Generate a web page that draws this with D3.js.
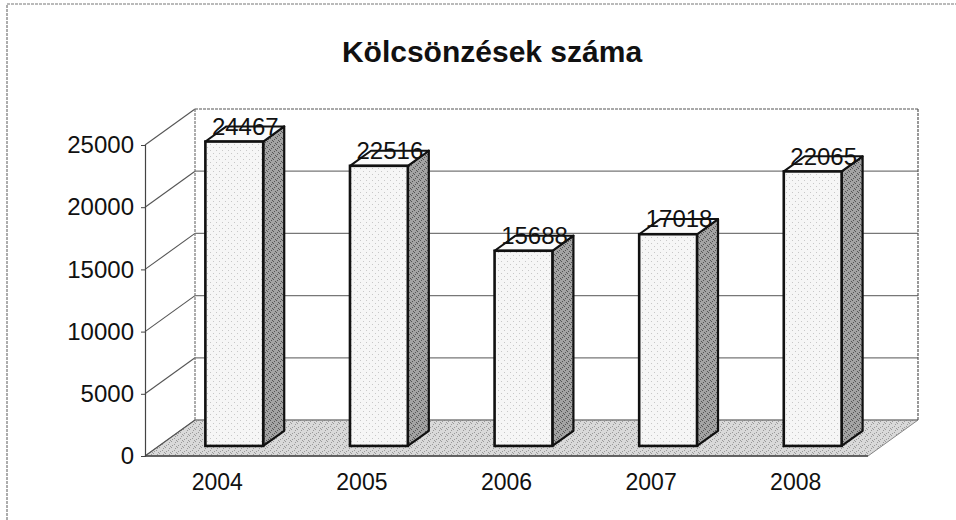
<!DOCTYPE html>
<html>
<head>
<meta charset="utf-8">
<script src="https://cdn.jsdelivr.net/npm/d3@7"></script>
<style>
  body { margin: 0; background: #fff; }
  text { font-family: "Liberation Sans", Arial, sans-serif; fill: #111; }
</style>
</head>
<body>
<div class="chart"></div>
<script>
// data
var years = ["2004", "2005", "2006", "2007", "2008"];
var loans = [24467, 22516, 15688, 17018, 22065];
var yTicks = [0, 5000, 10000, 15000, 20000, 25000];

var svgWidth = 956;
var svgHeight = 520;

// front plane of the 3d box
var front = { left: 145, right: 868, bottom: 456, top: 145 };
// how far the back wall is shifted from the front plane
var depth = { dx: 50, dy: -36 };
// bars sit between these depth fractions
var barNear = 0.28, barFar = 0.7;
var barNudge = 3;

var svg = d3.select(".chart")
  .append("svg")
  .attr("width", svgWidth)
  .attr("height", svgHeight);

// patterns to imitate the scanned stipple
var defs = svg.append("defs");
function stipple(id, base, dot, density) {
  var p = defs.append("pattern")
    .attr("id", id)
    .attr("patternUnits", "userSpaceOnUse")
    .attr("width", 6).attr("height", 6);
  p.append("rect").attr("width", 6).attr("height", 6).attr("fill", base);
  var pts = [[0, 0], [3, 3], [1, 4], [4, 1], [2, 2], [5, 5], [0, 3], [3, 0]];
  pts.slice(0, density).forEach(function(q) {
    p.append("rect").attr("x", q[0]).attr("y", q[1])
      .attr("width", 1).attr("height", 1).attr("fill", dot);
  });
}
stipple("floorFill", "#d9d9d9", "#9a9a9a", 5);
stipple("sideFill", "#a3a3a3", "#555", 6);
stipple("frontFill", "#f6f6f6", "#c8c8c8", 2);

var xScale = d3.scaleBand()
  .domain(years)
  .range([front.left, front.right])
  .paddingInner(0.6)
  .paddingOuter(0.3);

var yScale = d3.scaleLinear()
  .domain([0, 25000])
  .range([front.bottom, front.top]);

function shift(f) { return [depth.dx * f, depth.dy * f]; }
function pts(arr) { return arr.map(function(p) { return p.join(","); }).join(" "); }

// outer frame of the scanned chart
svg.append("path")
  .attr("d", "M7,520 L7,4 L956,4")
  .attr("fill", "none")
  .attr("stroke", "#777")
  .attr("stroke-width", 1.2)
  .attr("stroke-dasharray", "3,1");

// title
svg.append("text")
  .attr("x", 492)
  .attr("y", 62)
  .attr("text-anchor", "middle")
  .attr("font-size", "30px")
  .attr("font-weight", "bold")
  .text("Kölcsönzések száma");

var back = shift(1);
var bx0 = front.left + back[0], bx1 = front.right + back[0];

// floor
svg.append("polygon")
  .attr("points", pts([
    [front.left, front.bottom], [front.right, front.bottom],
    [bx1, front.bottom + back[1]], [bx0, front.bottom + back[1]]
  ]))
  .attr("fill", "url(#floorFill)")
  .attr("stroke", "#888")
  .attr("stroke-width", 1);

// back wall gridlines and left wall diagonals
var grid = svg.append("g").attr("class", "grid");
yTicks.forEach(function(t) {
  var yf = yScale(t), yb = yf + back[1];
  grid.append("line")
    .attr("x1", bx0).attr("x2", bx1)
    .attr("y1", yb).attr("y2", yb)
    .attr("stroke", t === 25000 ? "#555" : "#777")
    .attr("stroke-width", 1.2)
    .attr("stroke-dasharray", t === 25000 ? "3,1" : null);
  grid.append("line")
    .attr("x1", front.left).attr("x2", bx0)
    .attr("y1", yf).attr("y2", yb)
    .attr("stroke", "#555")
    .attr("stroke-width", 1.1);
});
// back wall edges
grid.append("line")
  .attr("x1", bx0).attr("x2", bx0)
  .attr("y1", yScale(25000) + back[1]).attr("y2", yScale(0) + back[1])
  .attr("stroke", "#777").attr("stroke-width", 1.2)
  .attr("stroke-dasharray", "3,1");
grid.append("line")
  .attr("x1", bx1).attr("x2", bx1)
  .attr("y1", yScale(25000) + back[1]).attr("y2", yScale(0) + back[1])
  .attr("stroke", "#555").attr("stroke-width", 1.2)
  .attr("stroke-dasharray", "3,1");

// y axis on the front plane
var leftAxis = d3.axisLeft(yScale)
  .tickValues(yTicks)
  .tickSize(4)
  .tickPadding(7)
  .tickFormat(d3.format("d"));

var yAxis = svg.append("g")
  .attr("transform", `translate(${front.left}, 0)`)
  .call(leftAxis);
yAxis.select(".domain").attr("stroke", "#444").attr("stroke-width", 1.2);
yAxis.selectAll(".tick line").attr("stroke", "#444");
yAxis.selectAll(".tick text")
  .attr("font-size", "24px")
  .attr("fill", "#111")
  .attr("font-family", "Liberation Sans, Arial, sans-serif");

// front floor edge
svg.append("line")
  .attr("x1", front.left).attr("x2", front.right)
  .attr("y1", front.bottom).attr("y2", front.bottom)
  .attr("stroke", "#444").attr("stroke-width", 1.3);

// category labels
var bottomAxis = d3.axisBottom(xScale).tickSize(0).tickPadding(18);
var xAxis = svg.append("g")
  .attr("transform", `translate(0, ${front.bottom})`)
  .call(bottomAxis);
xAxis.select(".domain").remove();
xAxis.selectAll(".tick text")
  .attr("font-size", "23px")
  .attr("fill", "#111")
  .attr("font-family", "Liberation Sans, Arial, sans-serif");

// 3d bars
var near = shift(barNear), far = shift(barFar);
var bars = svg.append("g").attr("class", "bars");

years.forEach(function(yr, i) {
  var v = loans[i];
  var x0 = xScale(yr) + near[0] + barNudge;
  var x1 = x0 + xScale.bandwidth();
  var yBase = yScale(0) + near[1];
  var yTop = yScale(v) + near[1];
  var ddx = far[0] - near[0], ddy = far[1] - near[1];
  var g = bars.append("g");

  // side face
  g.append("polygon")
    .attr("points", pts([[x1, yBase], [x1 + ddx, yBase + ddy], [x1 + ddx, yTop + ddy], [x1, yTop]]))
    .attr("fill", "url(#sideFill)")
    .attr("stroke", "#111").attr("stroke-width", 2.2)
    .attr("stroke-linejoin", "round");
  // top face
  g.append("polygon")
    .attr("points", pts([[x0, yTop], [x1, yTop], [x1 + ddx, yTop + ddy], [x0 + ddx, yTop + ddy]]))
    .attr("fill", "#fbfbfb")
    .attr("stroke", "#111").attr("stroke-width", 2)
    .attr("stroke-linejoin", "round");
  // front face
  g.append("rect")
    .attr("x", x0).attr("y", yTop)
    .attr("width", x1 - x0).attr("height", yBase - yTop)
    .attr("fill", "url(#frontFill)")
    .attr("stroke", "#111").attr("stroke-width", 2.6);

  // value label, sitting on the top face
  var mid = shift(0.5);
  g.append("text")
    .attr("x", xScale(yr) + xScale.bandwidth() / 2 + mid[0] + barNudge)
    .attr("y", yScale(v) + mid[1] + 1)
    .attr("text-anchor", "middle")
    .attr("font-size", "24px")
    .text(v);
});
</script>
</body>
</html>
